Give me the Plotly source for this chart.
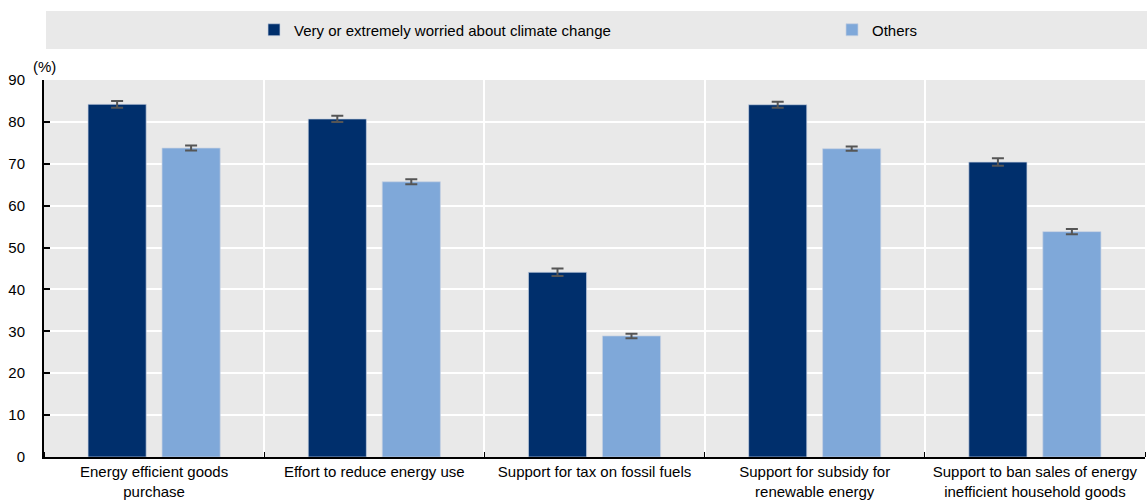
import plotly.graph_objects as go

categories = [
    "Energy efficient goods<br>purchase",
    "Effort to reduce energy use",
    "Support for tax on fossil fuels",
    "Support for subsidy for<br>renewable energy",
    "Support to ban sales of energy<br>inefficient household goods",
]
worried = [84.2, 80.7, 44.1, 84.1, 70.4]
worried_err = [0.8, 0.75, 0.9, 0.7, 0.9]
others = [73.75, 65.7, 28.9, 73.6, 53.8]
others_err = [0.6, 0.6, 0.55, 0.5, 0.6]
series_names = ["Very or extremely worried about climate change", "Others"]
y_ticks = [0, 10, 20, 30, 40, 50, 60, 70, 80, 90]

FONT = "Liberation Sans Narrow, Arial Narrow, Liberation Sans, Arial, sans-serif"
FS = 15
xs = list(range(len(categories)))

fig = go.Figure()
fig.add_trace(go.Bar(
    x=xs, y=worried, name=series_names[0], legend="legend",
    marker=dict(color="#002F6C", line=dict(color="rgba(200,210,225,0.7)", width=1)),
    width=0.264, offset=-0.3,
    error_y=dict(type="data", array=worried_err, color="#555555", thickness=2, width=6),
))
fig.add_trace(go.Bar(
    x=xs, y=others, name=series_names[1], legend="legend2",
    marker=dict(color="#7FA8D9", line=dict(color="rgba(200,210,225,0.7)", width=1)),
    width=0.264, offset=0.036,
    error_y=dict(type="data", array=others_err, color="#555555", thickness=2, width=6),
))

# legend background band
fig.add_shape(type="rect", xref="paper", yref="paper",
              x0=(46 - 44) / 1101, x1=1.01, y0=1 + (80 - 49) / 377, y1=1 + (80 - 11) / 377,
              fillcolor="#E9E9E9", line=dict(width=0), layer="below")

fig.add_annotation(text="(%)", xref="paper", yref="paper", x=(31 - 44) / 1101, y=1 + (80 - 67) / 377,
                   xanchor="left", yanchor="middle", showarrow=False,
                   font=dict(family=FONT, size=FS, color="#000000"))

leg_common = dict(orientation="h", yanchor="middle", xanchor="left", bgcolor="rgba(0,0,0,0)",
                  font=dict(family=FONT, size=FS, color="#000000"), itemclick=False,
                  borderwidth=0)

fig.update_layout(
    width=1147, height=503,
    margin=dict(l=44, r=2, t=80, b=46),
    barmode="overlay",
    paper_bgcolor="white", plot_bgcolor="#E9E9E9",
    font=dict(family=FONT, size=FS, color="#000000"),
    showlegend=True,
    legend=dict(x=(254 - 44) / 1101, y=1 + (80 - 30) / 377, **leg_common),
    legend2=dict(x=(832 - 44) / 1101, y=1 + (80 - 30) / 377, **leg_common),
    xaxis=dict(
        range=[-0.5, 4.5], tickvals=xs, ticktext=categories, showgrid=False,
        ticks="", showline=True, linecolor="#000000", linewidth=2, zeroline=False,
        tickfont=dict(family=FONT, size=FS),
        minor=dict(tick0=0.5, dtick=1, showgrid=True, gridcolor="white", gridwidth=2,
                   ticks="inside", ticklen=5, tickcolor="#000000", tickwidth=1),
    ),
    yaxis=dict(
        range=[0, 90], tickvals=y_ticks, showgrid=True, gridcolor="white", gridwidth=2,
        ticks="inside", ticklen=6, tickcolor="#000000", tickwidth=2,
        showline=True, linecolor="#000000", linewidth=2, zeroline=False,
        ticklabelstandoff=14,
        tickfont=dict(family=FONT, size=FS),
    ),
)

fig.write_html("out.html")
